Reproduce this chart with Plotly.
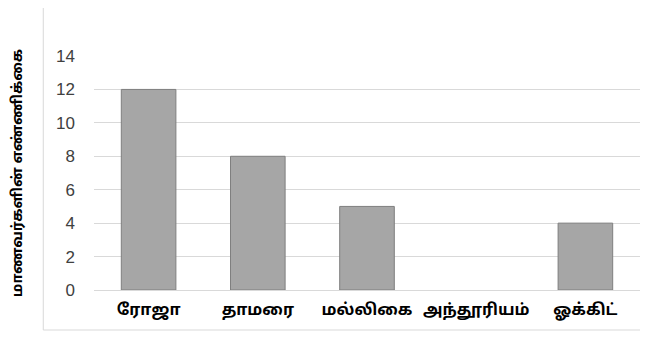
import plotly.graph_objects as go

categories = ["ரோஜா", "தாமரை", "மல்லிகை", "அந்தூரியம்", "ஓக்கிட்"]
values = [12, 8, 5, 0, 4]
y_ticks = [0, 2, 4, 6, 8, 10, 12, 14]
y_title = "மாணவர்களின் எண்ணிக்கை"

# page body has an 8px margin, so the figure is 8px smaller than the window
W, H = 640, 330
ml, mr, mt, mb = 83, 8, 48, 48
pw, ph = W - ml - mr, H - mt - mb

fig = go.Figure(go.Bar(
    x=categories, y=values,
    marker=dict(color="#a6a6a6",
                line=dict(color="#7f7f7f", width=[1 if v > 0 else 0 for v in values])),
))

tamil = "Noto Sans Tamil, Latha, Liberation Sans, sans-serif"
fig.update_layout(
    width=W, height=H,
    margin=dict(l=ml, r=mr, t=mt, b=mb),
    paper_bgcolor="white", plot_bgcolor="white",
    bargap=0.5, showlegend=False,
    font=dict(family=tamil),
)
fig.update_xaxes(
    showgrid=False, showline=False, ticks="", ticklabelstandoff=8,
    tickfont=dict(size=16, color="#000000", family=tamil, weight="bold"),
)
fig.update_yaxes(
    range=[0, 14], tickvals=y_ticks,
    showgrid=True, gridcolor="#d9d9d9", gridwidth=1,
    zeroline=True, zerolinecolor="#d9d9d9", zerolinewidth=1,
    showline=False, ticks="", ticklabelstandoff=18,
    tickfont=dict(size=17, color="#404040", family="Liberation Sans, Arial, sans-serif"),
    title=dict(text=y_title, standoff=30,
               font=dict(size=14.5, color="#000000", family=tamil, weight="bold")),
)

# chart-area frame (left and bottom edges visible)
fig.add_shape(type="rect", xref="paper", yref="paper",
              x0=(32 - ml) / pw, x1=1.2,
              y0=-(322 - (H - mb)) / ph, y1=1.5,
              line=dict(color="#d9d9d9", width=1), fillcolor="rgba(0,0,0,0)", layer="below")

fig.write_html("out.html")
